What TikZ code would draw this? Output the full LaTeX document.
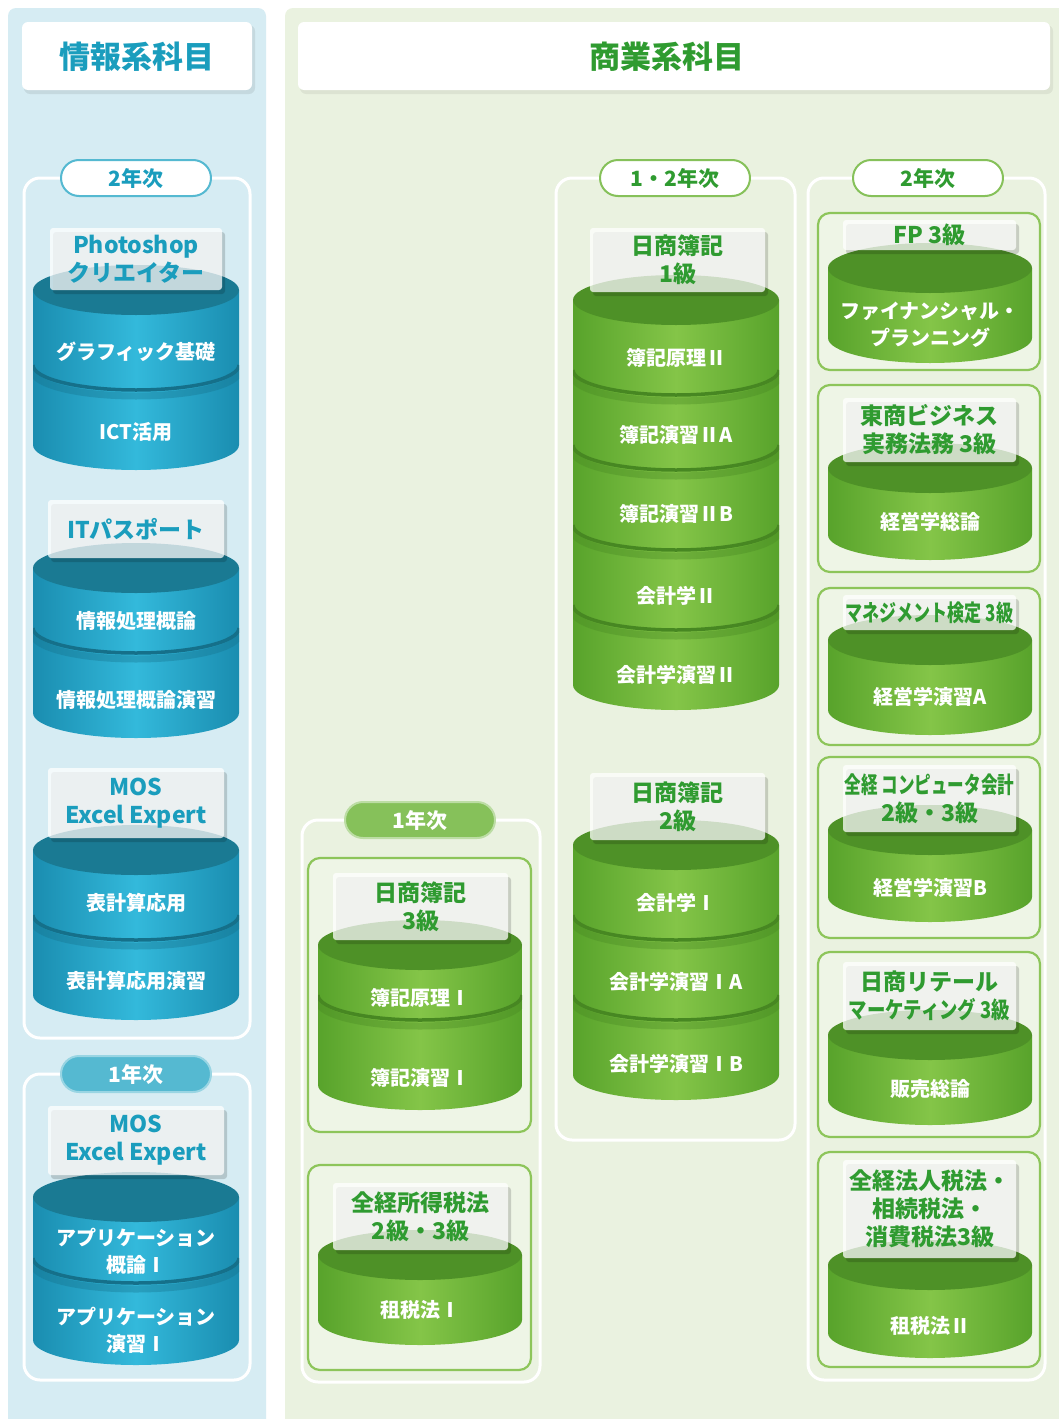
\documentclass[tikz,border=0pt]{standalone}
\usepackage{fontspec}
\setmainfont{Noto Sans CJK JP}
\definecolor{bpanel}{HTML}{D6ECF3}
\definecolor{gpanel}{HTML}{EAF2E0}
\definecolor{btext}{HTML}{1A9DBD}
\definecolor{gtext}{HTML}{2F9B30}
\definecolor{bdark}{HTML}{1A8DB0}
\definecolor{blight}{HTML}{33B9DB}
\definecolor{btop}{HTML}{1A7A93}
\definecolor{brim}{HTML}{15708A}
\definecolor{gdark}{HTML}{58A32B}
\definecolor{glight}{HTML}{84C548}
\definecolor{gtop}{HTML}{4E9127}
\definecolor{grim}{HTML}{478722}
\definecolor{bpill}{HTML}{55B9D1}
\definecolor{gpill}{HTML}{86C15A}
\definecolor{gboxc}{HTML}{8DC55A}
\definecolor{gboxf}{HTML}{EEF5E6}
\tikzset{
 ttl/.style={font=\bfseries\fontsize{31}{31}\selectfont},
 lbl/.style={font=\bfseries\fontsize{23}{28}\selectfont, align=center, inner sep=0pt},
 cyltxt/.style={font=\bfseries\fontsize{20}{27}\selectfont, text=white, align=center, inner sep=0pt},
 pillbox/.style={rounded corners=18pt, line width=2pt, minimum width=150pt, minimum height=36pt, font=\bfseries\fontsize{21}{21}\selectfont, inner sep=0pt},
 grp/.style={draw=white, line width=3pt, rounded corners=16pt},
 inbox/.style={draw=gboxc, line width=2.2pt, fill=gboxf, rounded corners=12pt},
}
% cylinder body: cx, rx, ytop, ybottom, scheme
\newcommand\drawcyl[5]{%
  \shade[left color=#5dark, right color=#5dark, middle color=#5light]
    (#1-#2,#3) -- (#1-#2,#4) arc[start angle=180,end angle=360,x radius=#2pt,y radius=25pt] -- (#1+#2,#3) -- cycle;
  \fill[#5top] (#1,#3) ellipse[x radius=#2pt, y radius=25pt];
}
% rim between segments: cx, rx, y, scheme
\newcommand\cylrim[4]{%
  \begin{scope}
  \clip (#1-#2,0) rectangle (#1+#2,1419);
  \draw[#4rim, opacity=0.35, line width=7pt] (#1-#2,#3+6) arc[start angle=180,end angle=360,x radius=#2pt,y radius=25pt];
  \draw[#4rim, line width=3.5pt] (#1-#2,#3) arc[start angle=180,end angle=360,x radius=#2pt,y radius=25pt];
  \end{scope}
}
% label box: name, x1, y1, x2, y2, text, colour
\newcommand\labelbox[7]{%
  \fill[black, opacity=0.16, rounded corners=3pt] (#2+3,#3+4) rectangle (#4+3,#5+4);
  \fill[white, opacity=0.74, rounded corners=3pt] (#2,#3) rectangle (#4,#5);
  \node[lbl, text=#7] (#1) at ({(#2+#4)/2},{(#3+#5)/2}) {#6};
}
\begin{document}
\begin{tikzpicture}[x=1pt,y=-1pt]
\useasboundingbox (0,0) rectangle (1059,1419);
\fill[white] (0,0) rectangle (1059,1419);
% panels
\fill[bpanel, rounded corners=8pt] (8,8) rectangle (266,1430);
\fill[gpanel, rounded corners=8pt] (285,8) rectangle (1070,1430);
% titles
\fill[black, opacity=0.08, rounded corners=6pt] (24,25) rectangle (255,94);
\fill[white, rounded corners=6pt] (22,22) rectangle (252,90);
\node[ttl, text=btext] (t1) at (137,57) {情報系科目};
\fill[black, opacity=0.06, rounded corners=6pt] (300,25) rectangle (1053,94);
\fill[white, rounded corners=6pt] (298,22) rectangle (1050,90);
\node[ttl, text=gtext] (t2) at (667,57) {商業系科目};

% ================= LEFT COLUMN =================
\draw[grp] (24,178) rectangle (250,1038);
\node[pillbox, draw=bpill, fill=white, text=btext] (p1) at (136,178) {2年次};
% Photoshop
\drawcyl{136}{103}{290}{445}{b}
\cylrim{136}{103}{365}{b}
\labelbox{l1}{50}{228}{222}{290}{Photoshop\\クリエイター}{btext}
\node[cyltxt] (c1a) at (136,352) {グラフィック基礎};
\node[cyltxt] (c1b) at (136,432) {ICT活用};
% IT passport
\drawcyl{136}{103}{568}{713}{b}
\cylrim{136}{103}{628}{b}
\labelbox{l2}{48}{500}{224}{558}{ITパスポート}{btext}
\node[cyltxt] (c2a) at (136,621) {情報処理概論};
\node[cyltxt] (c2b) at (136,700) {情報処理概論演習};
% MOS
\drawcyl{136}{103}{850}{995}{b}
\cylrim{136}{103}{915}{b}
\labelbox{l3}{48}{768}{224}{838}{MOS\\Excel Expert}{btext}
\node[cyltxt] (c3a) at (136,903) {表計算応用};
\node[cyltxt] (c3b) at (136,981) {表計算応用演習};
% 1年次
\draw[grp] (24,1074) rectangle (250,1380);
\node[pillbox, draw=bpill!60!white, fill=bpill, text=white] (p2) at (136,1074) {1年次};
\drawcyl{136}{103}{1197}{1340}{b}
\cylrim{136}{103}{1258}{b}
\labelbox{l4}{48}{1106}{224}{1175}{MOS\\Excel Expert}{btext}
\node[cyltxt] (c4a) at (136,1251) {アプリケーション\\概論Ⅰ};
\node[cyltxt] (c4b) at (136,1330) {アプリケーション\\演習Ⅰ};

% ================= MIDDLE-LEFT (1年次) =================
\draw[grp] (302,820) rectangle (540,1382);
\node[pillbox, draw=gpill!55!white, fill=gpill, text=white] (p3) at (420,820) {1年次};
\draw[inbox] (308,858) rectangle (531,1132);
\drawcyl{420}{102}{945}{1085}{g}
\cylrim{420}{102}{995}{g}
\labelbox{l5}{333}{873}{508}{940}{日商簿記\\3級}{gtext}
\node[cyltxt] (c5a) at (420,998) {簿記原理Ⅰ};
\node[cyltxt] (c5b) at (420,1078) {簿記演習Ⅰ};
\draw[inbox] (308,1165) rectangle (531,1370);
\drawcyl{420}{102}{1255}{1320}{g}
\labelbox{l6}{333}{1183}{508}{1250}{全経所得税法\\2級・3級}{gtext}
\node[cyltxt] (c6a) at (420,1310) {租税法Ⅰ};

% ================= MIDDLE-RIGHT (1・2年次) =================
\draw[grp] (556,178) rectangle (795,1140);
\node[pillbox, draw=gpill, fill=white, text=gtext] (p4) at (675,178) {1・2年次};
\drawcyl{676}{103}{300}{685}{g}
\cylrim{676}{103}{370}{g}
\cylrim{676}{103}{445}{g}
\cylrim{676}{103}{525}{g}
\cylrim{676}{103}{605}{g}
\labelbox{l7}{590}{228}{765}{292}{日商簿記\\1級}{gtext}
\node[cyltxt] (c7a) at (676,358) {簿記原理Ⅱ};
\node[cyltxt] (c7b) at (676,435) {簿記演習ⅡA};
\node[cyltxt] (c7c) at (676,514) {簿記演習ⅡB};
\node[cyltxt] (c7d) at (676,596) {会計学Ⅱ};
\node[cyltxt] (c7e) at (676,675) {会計学演習Ⅱ};
\drawcyl{676}{103}{845}{1075}{g}
\cylrim{676}{103}{915}{g}
\cylrim{676}{103}{995}{g}
\labelbox{l8}{590}{773}{765}{840}{日商簿記\\2級}{gtext}
\node[cyltxt] (c8a) at (676,903) {会計学Ⅰ};
\node[cyltxt] (c8b) at (676,982) {会計学演習ⅠA};
\node[cyltxt] (c8c) at (676,1064) {会計学演習ⅠB};

% ================= RIGHT (2年次) =================
\draw[grp] (808,178) rectangle (1045,1380);
\node[pillbox, draw=gpill, fill=white, text=gtext] (p5) at (928,178) {2年次};
% FP
\draw[inbox] (818,213) rectangle (1040,370);
\drawcyl{930}{102}{268}{338}{g}
\labelbox{l9}{843}{220}{1016}{250}{FP 3級}{gtext}
\node[cyltxt] (c9) at (930,325) {ファイナンシャル・\\プランニング};
% 東商
\draw[inbox] (818,385) rectangle (1040,572);
\drawcyl{930}{102}{468}{535}{g}
\labelbox{l10}{843}{398}{1016}{462}{東商ビジネス\\実務法務 3級}{gtext}
\node[cyltxt] (c10) at (930,522) {経営学総論};
% マネジメント
\draw[inbox] (818,588) rectangle (1040,745);
\drawcyl{930}{102}{640}{710}{g}
\labelbox{l11}{843}{595}{1016}{630}{\scalebox{0.74}[1]{マネジメント検定 3級}}{gtext}
\node[cyltxt] (c11) at (930,697) {経営学演習A};
% 全経コンピュータ
\draw[inbox] (818,757) rectangle (1040,938);
\drawcyl{930}{102}{830}{897}{g}
\labelbox{l12}{843}{765}{1016}{832}{\scalebox{0.72}[1]{全経 コンピュータ会計}\\2級・3級}{gtext}
\node[cyltxt] (c12) at (930,888) {経営学演習B};
% 日商リテール
\draw[inbox] (818,952) rectangle (1040,1137);
\drawcyl{930}{102}{1035}{1100}{g}
\labelbox{l13}{843}{962}{1016}{1030}{日商リテール\\\scalebox{0.8}[1]{マーケティング 3級}}{gtext}
\node[cyltxt] (c13) at (930,1089) {販売総論};
% 全経法人税法
\draw[inbox] (818,1152) rectangle (1040,1367);
\drawcyl{930}{102}{1265}{1333}{g}
\labelbox{l14}{843}{1160}{1016}{1258}{全経法人税法・\\相続税法・\\消費税法3級}{gtext}
\node[cyltxt] (c14) at (930,1326) {租税法Ⅱ};
\end{tikzpicture}
\end{document}
